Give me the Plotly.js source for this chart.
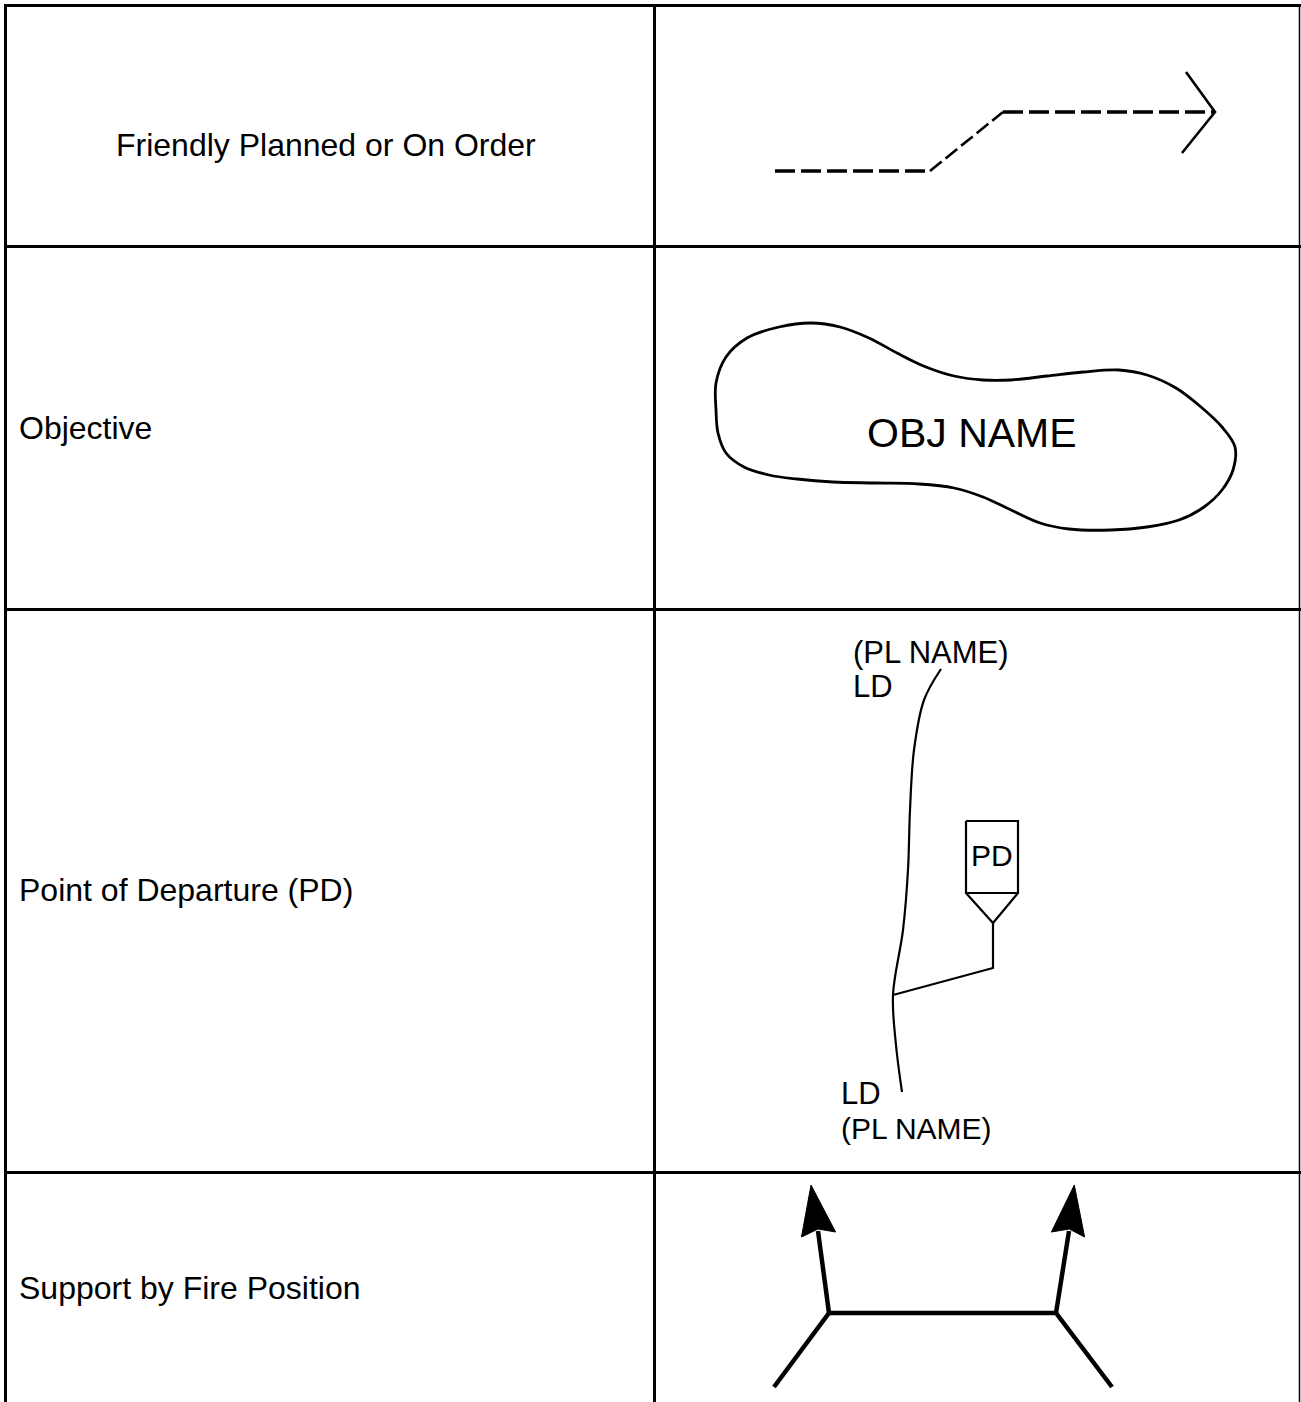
<!DOCTYPE html>
<html><head><meta charset="utf-8">
<script src="https://cdn.plot.ly/plotly-3.0.1.min.js"></script>
<style>html,body{margin:0;padding:0;background:#fff;overflow:hidden;} #chart{width:1301px;height:1402px;}</style>
</head><body><div id="chart"></div>
<script>
// ---- table content ----
const rowLabels = ["Friendly Planned or On Order", "Objective", "Point of Departure (PD)", "Support by Fire Position"];
const rowEdges = [5.5, 246.5, 609.5, 1172.5];
const colEdges = [5.5, 654.5];
const rightEdge = 1299.5;

// ---- Friendly Planned or On Order (dashed route with open arrow) ----
const routeLowX = [775, 930], routeLowY = [171, 171];
const routeDiagX = [930, 1003], routeDiagY = [171, 112];
const routeHighX = [1003, 1215], routeHighY = [112, 112];
const routeHeadX = [1186, 1215, 1182], routeHeadY = [72, 112, 153];

// ---- Objective outline ----
const objX = [716, 726, 747, 779, 811, 840, 869, 897, 926, 954, 983, 1011, 1047, 1083, 1119, 1147, 1176, 1201, 1222, 1235, 1233, 1222, 1204, 1179, 1147, 1111, 1069, 1040, 1011, 983, 954, 919, 876, 833, 797, 769, 744, 726, 718, 716, 716];
const objY = [383, 357, 338, 327, 323, 327, 338, 353, 367, 376, 380, 380, 376, 372, 370, 375, 388, 407, 427, 447, 470, 490, 507, 520, 527, 530, 529, 523, 510, 497, 488, 484, 483, 482, 479, 475, 467, 453, 433, 410, 383];
const objText = "OBJ NAME";

// ---- Point of Departure ----
const ldLineX = [941, 924, 914, 910, 908, 903, 893, 896, 902];
const ldLineY = [669, 700, 750, 810, 870, 930, 995, 1045, 1092];
const pdBranchX = [893, 993, 993], pdBranchY = [995, 968, 923];
const pdBoxX = [966, 1018, 1018, 966, 966], pdBoxY = [821, 821, 893, 893, 821];
const pdTriX = [966, 993, 1018], pdTriY = [893, 923, 893];
const pdTopTexts = ["(PL NAME)", "LD"];
const pdBottomTexts = ["LD", "(PL NAME)"];
const pdText = "PD";

// ---- Support by Fire Position ----
const sbfBaseX = [774, 829, 1056, 1112], sbfBaseY = [1387, 1313, 1313, 1387];
const sbfLeftShaftX = [829, 818], sbfLeftShaftY = [1313, 1231];
const sbfRightShaftX = [1056, 1069], sbfRightShaftY = [1313, 1231];
const sbfLeftHeadX = [811, 835.6, 818.1, 801.5, 811], sbfLeftHeadY = [1185, 1232, 1229, 1237, 1185];
const sbfRightHeadX = [1074.3, 1084.6, 1069.3, 1051.4, 1074.3], sbfRightHeadY = [1185, 1237, 1229, 1232, 1185];

const INK = "#000000";
const FONT = "'Liberation Sans', Arial, Helvetica, sans-serif";
const traces = [];
function line(x, y, w, dash, extra) {
  const t = {x: x, y: y, type: "scatter", mode: "lines", hoverinfo: "skip", showlegend: false,
    line: {color: INK, width: w, dash: dash || "solid"}};
  if (extra) Object.assign(t, extra);
  traces.push(t);
}

// grid
rowEdges.forEach(function (yv) { line([4, 1301], [yv, yv], 3); });
colEdges.forEach(function (xv) { line([xv, xv], [4, 1402], 3); });
line([rightEdge, rightEdge], [5, 1402], 1.5);

// route
line(routeLowX, routeLowY, 3.5, "20px,6px");
line(routeDiagX, routeDiagY, 2.6, "15px,5px");
line(routeHighX, routeHighY, 3.5, "20px,6px");
line(routeHeadX, routeHeadY, 2.6);

// objective
line(objX, objY, 2.8, "solid", {line: {color: INK, width: 2.8, shape: "spline", smoothing: 1}});

// PD
line(ldLineX, ldLineY, 2.2, "solid", {line: {color: INK, width: 2.2, shape: "spline", smoothing: 1}});
line(pdBranchX, pdBranchY, 2.2);
line(pdBoxX, pdBoxY, 2.2);
line(pdTriX, pdTriY, 2.2);

// Support by fire
line(sbfBaseX, sbfBaseY, 4.5);
line(sbfLeftShaftX, sbfLeftShaftY, 4.5);
line(sbfRightShaftX, sbfRightShaftY, 4.5);
line(sbfLeftHeadX, sbfLeftHeadY, 1, "solid", {fill: "toself", fillcolor: INK});
line(sbfRightHeadX, sbfRightHeadY, 1, "solid", {fill: "toself", fillcolor: INK});

// annotations
const ann = [];
function txt(text, x, y, size, xanchor) {
  ann.push({text: text, x: x, y: y, xref: "x", yref: "y", showarrow: false,
    xanchor: xanchor || "left", yanchor: "middle", borderpad: 0, borderwidth: 0,
    font: {family: FONT, size: size, color: INK}});
}
txt(rowLabels[0], 326, 145, 32, "center");
txt(rowLabels[1], 19, 428, 32);
txt(rowLabels[2], 19, 890, 32);
txt(rowLabels[3], 19, 1288, 32);
txt(objText, 972, 433, 41, "center");
txt(pdTopTexts[0], 853, 652, 31);
txt(pdTopTexts[1], 853, 686, 31);
txt(pdBottomTexts[0], 841, 1093, 31);
txt(pdBottomTexts[1], 841, 1128, 30);
txt(pdText, 992, 855, 30, "center");

const layout = {
  width: 1301, height: 1402,
  margin: {l: 0, r: 0, t: 0, b: 0, pad: 0},
  paper_bgcolor: "#ffffff", plot_bgcolor: "#ffffff",
  xaxis: {range: [0, 1301], visible: false, fixedrange: true},
  yaxis: {range: [1402, 0], visible: false, fixedrange: true},
  annotations: ann, showlegend: false
};
Plotly.newPlot("chart", traces, layout, {staticPlot: true, displayModeBar: false});
</script>
</body></html>
